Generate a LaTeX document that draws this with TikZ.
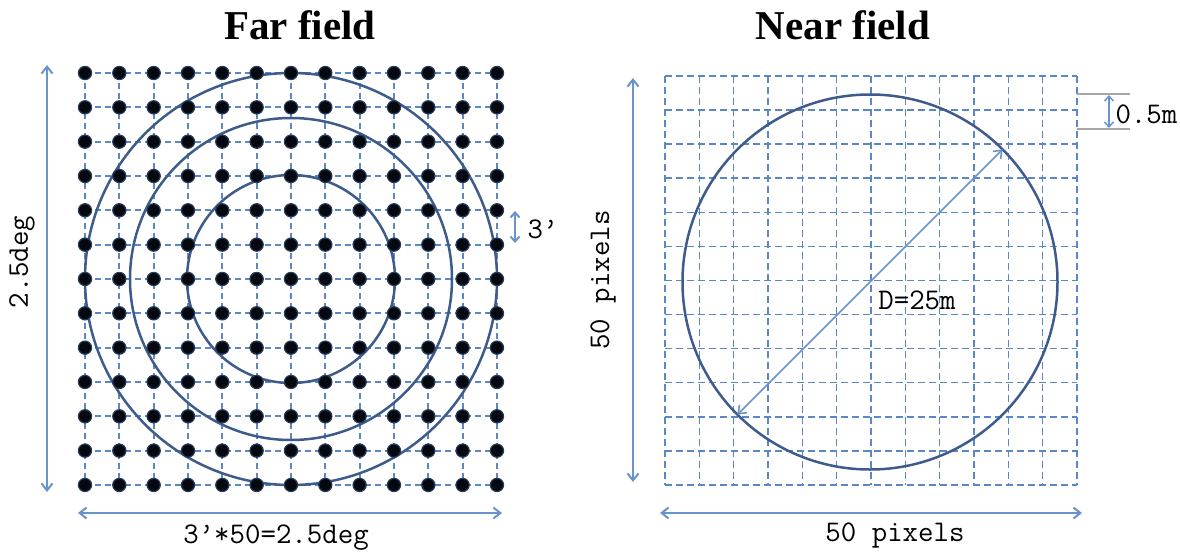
\documentclass[tikz,border=0pt]{standalone}
\usepackage{fontspec}
\newfontfamily\titlefont{Liberation Serif}
\usetikzlibrary{arrows.meta}
\definecolor{gridblue}{HTML}{5B87C5}
\definecolor{arrowblue}{HTML}{6A93CB}
\definecolor{circblue}{HTML}{3D5C8C}
\definecolor{dotcol}{HTML}{05080F}
\tikzset{
  title/.style={font=\titlefont\bfseries\fontsize{41}{45}\selectfont},
  lbl/.style={font=\ttfamily\fontsize{30}{32}\selectfont},
  fgrid/.style={gridblue, line width=1.8pt, dash pattern=on 6pt off 4pt},
  ngrid/.style={gridblue, line width=1.5pt, dash pattern=on 7pt off 4pt},
  ring/.style={circblue, line width=2.5pt},
  dimarrow/.style={arrowblue, line width=2pt, {Straight Barb[length=7pt,width=11pt]}-{Straight Barb[length=7pt,width=11pt]}},
  dot/.style={fill=dotcol, draw=dotcol!60!gridblue, line width=1.2pt},
  tick/.style={gray!70, line width=1.5pt}
}
\begin{document}
\begin{tikzpicture}[x=1pt,y=-1pt]
\useasboundingbox (0,0) rectangle (1180,554);
% ---------- Far field ----------
\node[title] (t1) at (300,25) {Far field};
\foreach \k in {0,...,12}{
  \draw[fgrid] (85,73+\k*34.33) -- (497,73+\k*34.33);
  \draw[fgrid] (85+\k*34.33,73) -- (85+\k*34.33,485);
}
\coordinate (fc) at (291,279);
\draw[ring] (fc) circle (206);
\draw[ring] (fc) circle (161);
\draw[ring] (fc) circle (104);
\foreach \i in {0,...,12}{
  \foreach \j in {0,...,12}{
    \filldraw[dot] (85+\i*34.33,73+\j*34.33) circle (6.6);
  }
}
\coordinate (fl1) at (47,65);
\coordinate (fl2) at (47,492);
\draw[dimarrow] (fl1) -- (fl2);
\node[lbl, rotate=90] (fll) at (22,262) {2.5deg};
\coordinate (fb1) at (78,513);
\coordinate (fb2) at (502,513);
\draw[dimarrow] (fb1) -- (fb2);
\node[lbl] (fbl) at (276,538) {3’*50=2.5deg};
\coordinate (fs1) at (515,211);
\coordinate (fs2) at (515,243);
\draw[arrowblue, line width=2pt, {Straight Barb[length=5pt,width=9pt]}-{Straight Barb[length=5pt,width=9pt]}] (fs1) -- (fs2);
\node[lbl, anchor=west] (fsl) at (524,229) {3’};
% ---------- Near field ----------
\node[title] (t2) at (843,25) {Near field};
\foreach \k in {0,...,12}{
  \draw[ngrid] (665,76+\k*34.08) -- (1077,76+\k*34.08);
  \draw[ngrid] (665+\k*34.33,76) -- (665+\k*34.33,485);
}
\coordinate (nc) at (870,282);
\draw[ring] (nc) circle (187.5);
\coordinate (nd1) at (737.4,414.6);
\coordinate (nd2) at (1002.6,149.4);
\draw[dimarrow, line width=1.6pt] (nd1) -- (nd2);
\node[lbl] (ndl) at (917,300) {D=25m};
\coordinate (nl1) at (633,78);
\coordinate (nl2) at (633,482);
\draw[dimarrow] (nl1) -- (nl2);
\node[lbl, rotate=90] (nll) at (603,280) {50 pixels};
\coordinate (nb1) at (660,513);
\coordinate (nb2) at (1082,513);
\draw[dimarrow] (nb1) -- (nb2);
\node[lbl] (nbl) at (895,535) {50 pixels};
\coordinate (tk1a) at (1077,94);
\coordinate (tk1b) at (1130,94);
\coordinate (tk2a) at (1077,129);
\coordinate (tk2b) at (1130,129);
\draw[tick] (tk1a) -- (tk1b);
\draw[tick] (tk2a) -- (tk2b);
\coordinate (ts1) at (1109,95);
\coordinate (ts2) at (1109,128);
\draw[arrowblue, line width=1.5pt, {Straight Barb[length=5pt,width=9pt]}-{Straight Barb[length=5pt,width=9pt]}] (ts1) -- (ts2);
\node[lbl, anchor=west] (tsl) at (1112,114) {0.5m};
\end{tikzpicture}
\end{document}
